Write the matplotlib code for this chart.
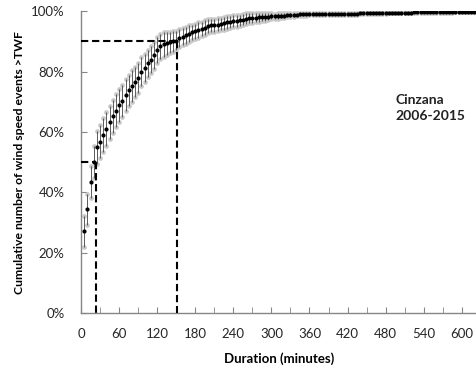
import numpy as np
import matplotlib
matplotlib.use('Agg')
import matplotlib.pyplot as plt
from matplotlib.ticker import MultipleLocator, PercentFormatter

# durations (minutes), one point every 5 minutes
duration = np.arange(5, 625, 5)

# cumulative share of events (%)
cum_pct = [
    27.0, 34.3, 43.4, 49.9, 54.9, 56.8, 59.0, 61.0, 63.2, 65.2, 67.1, 68.8,
    70.4, 72.1, 73.8, 75.2, 76.6, 77.9, 79.9, 81.2, 82.7, 84.0, 85.4, 87.1,
    88.4, 89.0, 89.4, 89.7, 90.0, 90.3, 91.2, 91.6, 92.0, 92.6, 93.0, 93.4,
    93.8, 94.2, 94.6, 95.0, 95.3, 95.4, 95.6, 95.8, 96.0, 96.3, 96.5, 96.7,
    96.8, 97.0, 97.2, 97.5, 97.8, 97.8, 97.9, 98.0, 98.0, 98.1, 98.2, 98.3,
    98.3, 98.4, 98.5, 98.6, 98.7, 98.8, 98.8, 98.9, 99.0, 99.0, 99.1, 99.1,
    99.2, 99.2, 99.2, 99.2, 99.2, 99.2, 99.2, 99.2, 99.2, 99.2, 99.2, 99.2,
    99.2, 99.2, 99.2, 99.5, 99.5, 99.5, 99.5, 99.5, 99.5, 99.5, 99.5, 99.5,
    99.5, 99.5, 99.5, 99.5, 99.5, 99.5, 99.5, 99.5, 99.8, 99.8, 99.8, 99.8,
    99.8, 99.8, 99.8, 99.8, 99.8, 99.8, 99.8, 99.8, 99.8, 99.9, 99.9, 99.9,
    99.9, 99.9, 99.9, 99.9,
]

# error (+/- %)
err_pct = [
    5.0, 5.0, 5.2, 5.3, 5.5, 5.5, 5.5, 5.5, 5.5, 5.5, 5.5, 5.5,
    5.3, 5.3, 5.2, 5.2, 5.0, 5.0, 4.8, 4.8, 4.6, 4.5, 4.4, 4.3,
    4.2, 4.0, 3.8, 3.6, 3.4, 3.2, 3.0, 2.9, 2.8, 2.7, 2.6, 2.5,
    2.5, 2.4, 2.4, 2.3, 2.3, 2.2, 2.2, 2.1, 2.1, 2.0, 2.0, 2.0,
    1.9, 1.9, 1.8, 1.8, 1.7, 1.6, 1.5, 1.4, 1.3, 1.2, 1.1, 1.0,
    0.9, 0.9, 0.8, 0.8, 0.7, 0.7, 0.6, 0.6, 0.5, 0.5, 0.5, 0.4,
    0.3, 0.3, 0.3, 0.3, 0.3, 0.3, 0.3, 0.3, 0.3, 0.3, 0.3, 0.3,
    0.3, 0.3, 0.3, 0.3, 0.3, 0.3, 0.3, 0.3, 0.3, 0.3, 0.3, 0.3,
    0.2, 0.2, 0.2, 0.2, 0.2, 0.2, 0.2, 0.2, 0.2, 0.2, 0.2, 0.2,
    0.2, 0.2, 0.2, 0.2, 0.2, 0.2, 0.2, 0.2, 0.2, 0.2, 0.2, 0.2,
    0.2, 0.2, 0.2, 0.2,
]

# reference lines: 50% and 90% of events
ref_pct = [50, 90]
ref_dur = [23, 151]

plt.rcParams['font.family'] = ['Lato', 'DejaVu Sans']

y = np.array(cum_pct)
e = np.array(err_pct)

fig = plt.figure(figsize=(4.77, 3.77), dpi=100)
ax = fig.add_axes([0.170, 0.170, 0.830, 0.800])

# error bars, light grey caps as dots
ax.plot(duration, y + e, 'o', color='#c8c8c8', ms=3.4, mew=0, zorder=2)
ax.plot(duration, y - e, 'o', color='#c8c8c8', ms=3.4, mew=0, zorder=2)
ax.errorbar(duration, y, yerr=e, fmt='none', ecolor='#5a5a5a', elinewidth=0.7,
            capsize=0, zorder=3)
ax.plot(duration, y, 'o', color='black', ms=3.0, mew=0, zorder=4)

for p, d in zip(ref_pct, ref_dur):
    ax.plot([0, d], [p, p], color='black', lw=1.5, ls=(0, (3.5, 1.8)), zorder=5)
    ax.plot([d, d], [p, 0], color='black', lw=1.5, ls=(0, (3.5, 1.8)), zorder=5)

ax.set_xlim(0, 624)
ax.set_ylim(0, 100)
ax.xaxis.set_major_locator(MultipleLocator(60))
ax.xaxis.set_minor_locator(MultipleLocator(30))
ax.yaxis.set_major_locator(MultipleLocator(20))
ax.yaxis.set_major_formatter(PercentFormatter(decimals=0))

for s in ['top', 'right']:
    ax.spines[s].set_visible(False)
for s in ['left', 'bottom']:
    ax.spines[s].set_color('#868686')
    ax.spines[s].set_linewidth(1.0)

ax.tick_params(which='both', direction='in', length=4, color='#868686',
               labelsize=9.5, labelcolor='#262626')
ax.tick_params(axis='y', pad=12)
ax.tick_params(axis='x', pad=11)

ax.set_xlabel('Duration (minutes)', fontsize=9.5, fontweight='bold', labelpad=9)
ax.set_ylabel('Cumulative number of wind speed events >TWF', fontsize=8.8,
              fontweight='bold', labelpad=4)

ax.text(496, 72.5, 'Cinzana\n2006-2015', fontsize=10, fontweight='bold',
        color='#222222', va='top', ha='left', linespacing=1.4)

fig.savefig('out.png', dpi=100)
